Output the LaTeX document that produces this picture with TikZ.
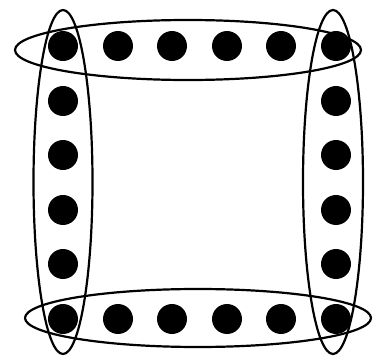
\documentclass[tikz,border=0pt]{standalone}
\begin{document}
\begin{tikzpicture}[x=1pt,y=-1pt,
  dot/.style={circle,fill=black,inner sep=0pt,minimum size=30pt},
  ring/.style={draw=black,line width=2.2pt}]
\useasboundingbox (0,0) rectangle (376,356);
\fill[white] (0,0) rectangle (376,356);
% top row
\foreach \x [count=\i] in {63,118,172,227,281,336}{
  \node[dot] (t\i) at (\x,46) {};
  \node[dot] (b\i) at (\x,319) {};
}
% side columns
\foreach \y [count=\i] in {101,155,210,264}{
  \node[dot] (l\i) at (63,\y) {};
  \node[dot] (r\i) at (336,\y) {};
}
\draw[ring] (188,50) ellipse [x radius=173, y radius=30];
\draw[ring] (198,318) ellipse [x radius=173, y radius=29];
\draw[ring] (63,182) ellipse [x radius=29.5, y radius=172];
\draw[ring] (333,182) ellipse [x radius=30, y radius=172];
\end{tikzpicture}
\end{document}
